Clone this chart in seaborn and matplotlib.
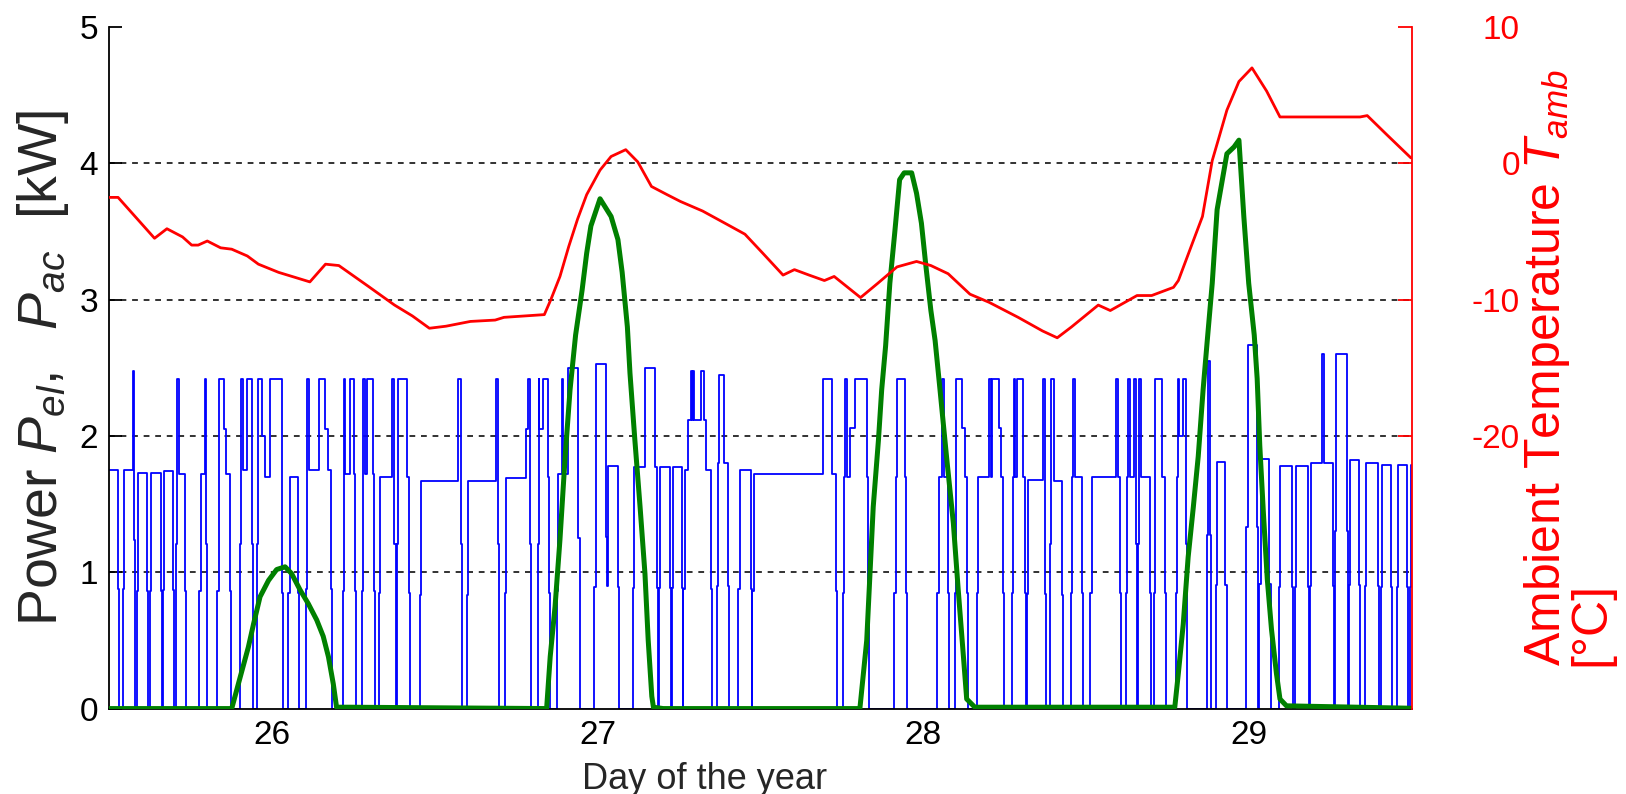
import numpy as np
import pandas as pd
import matplotlib
matplotlib.use("Agg")
import matplotlib.pyplot as plt
import seaborn as sns

# ---------------- data ----------------
# Heat-pump electric power P_el: on-periods (day of year) and base level [kW]
PULSE_ON = [25.490, 25.542, 25.585, 25.626, 25.667, 25.706, 25.778, 25.833, 25.903, 25.954,
            26.051, 26.105, 26.218, 26.277, 26.328, 26.385, 26.456, 26.600, 26.717, 26.817,
            26.875, 26.991, 27.110, 27.190, 27.230, 27.264, 27.366, 27.433, 27.476, 27.755,
            27.912, 28.044, 28.098, 28.165, 28.272, 28.320, 28.390, 28.454, 28.514, 28.622,
            28.661, 28.708, 28.777, 28.871, 28.899, 28.993, 29.033, 29.092, 29.141, 29.189,
            29.265, 29.308, 29.358, 29.405, 29.454, 29.496]
PULSE_OFF = [25.532, 25.581, 25.621, 25.662, 25.700, 25.737, 25.802, 25.874, 25.942, 26.036,
             26.084, 26.185, 26.258, 26.317, 26.380, 26.424, 26.585, 26.699, 26.795, 26.855,
             26.945, 27.067, 27.185, 27.225, 27.262, 27.353, 27.405, 27.474, 27.736, 27.835,
             27.952, 28.081, 28.139, 28.249, 28.316, 28.379, 28.431, 28.492, 28.607, 28.656,
             28.700, 28.745, 28.811, 28.885, 28.932, 29.030, 29.067, 29.137, 29.186, 29.262,
             29.306, 29.341, 29.401, 29.439, 29.490, 29.550]
PULSE_LEVEL = [1.75, 1.75, 1.73, 1.73, 1.74, 1.72, 1.72, 1.72, 1.75, 1.70,
               1.70, 1.75, 1.72, 1.72, 1.70, 1.70, 1.67, 1.67, 1.69, 1.70,
               1.72, 1.78, 1.77, 1.77, 1.77, 1.75, 1.80, 1.75, 1.72, 1.70,
               1.70, 1.70, 1.70, 1.70, 1.70, 1.68, 1.67, 1.70, 1.70, 1.70,
               1.70, 1.70, 1.70, 2.55, 1.81, 2.67, 1.83, 1.78, 1.78, 1.80,
               2.60, 1.82, 1.80, 1.79, 1.79, 1.79]
# segments inside an on-period where the power differs from the base level
HIGH_START = [25.575, 25.706, 25.795, 25.838, 25.853, 25.903, 25.923, 25.954, 25.969, 25.995,
              26.109, 26.146, 26.164, 26.222, 26.240, 26.281, 26.292, 26.368, 26.385, 26.573,
              26.689, 26.780, 26.788, 26.817, 26.822, 26.832, 26.890, 26.911, 26.996, 27.026,
              27.030, 27.146, 27.279, 27.286, 27.289, 27.294, 27.297, 27.317, 27.328, 27.374,
              27.692, 27.759, 27.776, 27.791, 27.921, 28.057, 28.102, 28.121, 28.203, 28.211,
              28.233, 28.278, 28.287, 28.368, 28.393, 28.461, 28.591, 28.630, 28.648, 28.664,
              28.712, 28.783, 28.786, 28.797, 29.224]
HIGH_END = [25.581, 25.714, 25.802, 25.853, 25.858, 25.913, 25.942, 25.969, 25.979, 26.031,
            26.115, 26.164, 26.174, 26.226, 26.253, 26.286, 26.312, 26.378, 26.414, 26.583,
            26.697, 26.788, 26.793, 26.822, 26.832, 26.849, 26.895, 26.942, 27.026, 27.030,
            27.034, 27.177, 27.286, 27.289, 27.294, 27.297, 27.317, 27.328, 27.332, 27.390,
            27.720, 27.765, 27.791, 27.829, 27.944, 28.064, 28.121, 28.129, 28.208, 28.233,
            28.238, 28.282, 28.308, 28.374, 28.401, 28.468, 28.599, 28.636, 28.653, 28.670,
            28.733, 28.786, 28.797, 28.809, 29.231]
HIGH_LEVEL = [2.48, 2.42, 2.42, 2.42, 2.05, 2.42, 2.42, 2.42, 2.00, 2.42,
              2.42, 2.42, 2.05, 2.42, 2.42, 2.42, 2.42, 2.42, 2.42, 2.42,
              2.42, 2.05, 2.42, 2.42, 2.05, 2.42, 2.42, 2.50, 2.53, 1.26,
              0.90, 2.50, 2.12, 2.48, 2.12, 2.48, 2.12, 2.48, 2.12, 2.45,
              2.42, 2.42, 2.06, 2.42, 2.42, 2.42, 2.42, 2.06, 2.42, 2.42,
              2.06, 2.42, 2.42, 2.42, 2.42, 2.42, 2.42, 2.42, 2.42, 2.42,
              2.42, 2.42, 2.00, 2.42, 2.60]

# PV AC power P_ac [kW]
PV_DAY = [25.45, 25.877, 25.903, 25.928, 25.944, 25.964, 25.990, 26.015, 26.041, 26.061,
          26.087, 26.112, 26.138, 26.158, 26.174, 26.189, 26.199, 26.235,
          26.844, 26.855, 26.870, 26.885, 26.901, 26.916, 26.933, 26.953, 26.967, 26.980,
          27.008, 27.042, 27.063, 27.076, 27.092, 27.100, 27.115, 27.131, 27.146, 27.156,
          27.167, 27.172, 27.202,
          27.806, 27.827, 27.837, 27.847, 27.863, 27.873, 27.885, 27.898, 27.913, 27.928,
          27.942, 27.965, 27.980, 27.995, 28.009, 28.024, 28.037, 28.052, 28.072, 28.093,
          28.108, 28.124, 28.134, 28.159,
          28.773, 28.784, 28.799, 28.814, 28.830, 28.845, 28.860, 28.872, 28.888, 28.903,
          28.933, 28.955, 28.970, 28.985, 29.000, 29.017, 29.026, 29.034, 29.045, 29.057,
          29.070, 29.085, 29.096, 29.116, 29.55]
PV_KW = [0.0, 0.0, 0.23, 0.45, 0.62, 0.82, 0.94, 1.02, 1.04, 0.99,
         0.87, 0.77, 0.65, 0.53, 0.38, 0.18, 0.01, 0.01,
         0.0, 0.38, 0.75, 1.24, 1.85, 2.34, 2.74, 3.07, 3.34, 3.54,
         3.74, 3.61, 3.44, 3.20, 2.80, 2.46, 1.97, 1.48, 0.99, 0.50,
         0.09, 0.01, 0.0,
         0.0, 0.50, 0.99, 1.48, 1.97, 2.34, 2.66, 3.12, 3.49, 3.88,
         3.93, 3.93, 3.78, 3.56, 3.24, 2.92, 2.70, 2.34, 1.85, 1.36,
         0.87, 0.38, 0.07, 0.01,
         0.01, 0.26, 0.62, 1.11, 1.48, 1.85, 2.34, 2.68, 3.12, 3.66,
         4.07, 4.12, 4.17, 3.61, 3.12, 2.74, 2.42, 1.93, 1.44, 0.95,
         0.58, 0.26, 0.07, 0.02, 0.0]

# Ambient temperature T_amb [degC]
TAMB_DAY = [25.45, 25.528, 25.640, 25.678, 25.726, 25.754, 25.774, 25.802, 25.843, 25.877,
            25.925, 25.959, 26.021, 26.076, 26.117, 26.165, 26.206, 26.295, 26.377, 26.432,
            26.484, 26.535, 26.610, 26.686, 26.713, 26.775, 26.837, 26.857, 26.885, 26.912,
            26.939, 26.967, 27.008, 27.042, 27.087, 27.124, 27.166, 27.214, 27.255, 27.323,
            27.392, 27.453, 27.508, 27.570, 27.605, 27.650, 27.697, 27.727, 27.808, 27.861,
            27.920, 27.980, 28.024, 28.077, 28.144, 28.203, 28.292, 28.367, 28.412, 28.456,
            28.538, 28.575, 28.657, 28.702, 28.769, 28.784, 28.828, 28.858, 28.888, 28.910,
            28.933, 28.970, 29.010, 29.055, 29.096, 29.342, 29.364, 29.424, 29.498]
TAMB_C = [-2.5, -2.5, -5.5, -4.8, -5.4, -6.0, -6.0, -5.7, -6.2, -6.3,
          -6.8, -7.4, -8.0, -8.4, -8.7, -7.4, -7.5, -9.0, -10.4, -11.2,
          -12.1, -11.95, -11.6, -11.5, -11.3, -11.2, -11.1, -10.0, -8.3, -6.1,
          -4.1, -2.3, -0.5, 0.5, 1.0, 0.1, -1.7, -2.3, -2.8, -3.5,
          -4.4, -5.2, -6.6, -8.2, -7.8, -8.2, -8.6, -8.3, -9.85, -8.8,
          -7.6, -7.2, -7.5, -8.1, -9.6, -10.2, -11.3, -12.3, -12.8, -12.0,
          -10.4, -10.8, -9.7, -9.7, -9.1, -8.6, -5.8, -3.9, 0.2, 2.0,
          3.9, 6.0, 7.0, 5.3, 3.4, 3.4, 3.5, 2.1, 0.4]

X_TICKS = [26, 27, 28, 29]
P_TICKS = [0, 1, 2, 3, 4, 5]
T_TICKS = [-20, -10, 0, 10]
X_LIM = (25.5, 29.5)
P_LIM = (0, 5)
T_LIM = (-40, 10)

RAMP = 0.0035  # one 5-minute sample: half level on switching edges

# ---------------- build step series for P_el ----------------
def p_el(t):
    for on, off, lev in zip(PULSE_ON, PULSE_OFF, PULSE_LEVEL):
        if on <= t < off:
            tc = min(max(t, on + RAMP), off - RAMP - 1e-7)
            val = lev
            for s, e, hl in zip(HIGH_START, HIGH_END, HIGH_LEVEL):
                if s <= tc < e:
                    val = hl
            if t < on + RAMP or t >= off - RAMP:
                val *= 0.5
            return val
    return 0.0

bp = set([25.45, 29.6])
for on, off in zip(PULSE_ON, PULSE_OFF):
    bp.update([on, on + RAMP, off - RAMP, off])
bp.update(HIGH_START)
bp.update(HIGH_END)
bp = np.array(sorted(bp))
mid = np.append((bp[:-1] + bp[1:]) / 2, bp[-1])
pel = np.array([p_el(t) for t in mid])
df_el = pd.DataFrame({"day": bp, "P": pel})
df_pv = pd.DataFrame({"day": PV_DAY, "P": PV_KW})
df_t = pd.DataFrame({"day": TAMB_DAY, "T": TAMB_C})

# ---------------- figure ----------------
sns.set_style("white")
plt.rcParams["font.family"] = ["Liberation Sans", "DejaVu Sans"]
plt.rcParams["mathtext.fontset"] = "custom"
plt.rcParams["mathtext.rm"] = "Liberation Sans"
plt.rcParams["mathtext.it"] = "Liberation Sans:italic"
plt.rcParams["mathtext.bf"] = "Liberation Sans:bold"
plt.rcParams["axes.unicode_minus"] = False

fig = plt.figure(figsize=(16.26, 7.94), dpi=100)
ax = fig.add_axes([0.067, 0.1076, 0.8011, 0.8584])

for v in P_TICKS:
    if P_LIM[0] < v < P_LIM[1]:
        ax.axhline(v, color="#222222", lw=1.3, ls=(0, (3.2, 3.2)), zorder=0.5)

sns.lineplot(data=df_el, x="day", y="P", ax=ax, color="#0000ff", lw=1.3,
             drawstyle="steps-post", estimator=None, sort=False, zorder=2)
sns.lineplot(data=df_pv, x="day", y="P", ax=ax, color="#008000", lw=3.6,
             estimator=None, sort=False, zorder=3)

ax.set_xlim(*X_LIM)
ax.set_ylim(*P_LIM)
ax.set_xticks(X_TICKS)
ax.set_yticks(P_TICKS)
ax.tick_params(axis="both", direction="in", labelsize=24, colors="black")
ax.tick_params(axis="x", length=10, width=1.3, pad=8)
ax.tick_params(axis="y", length=9, width=1.3, pad=8)
ax.set_xlabel("Day of the year", fontsize=26)
ax.xaxis.set_label_coords(0.4576, -0.078)
ax.set_ylabel(r"Power $P_{el},$  $P_{ac}$  [kW]", fontsize=40)
ax.yaxis.set_label_coords(-0.029, 0.5)
for s in ["top", "right"]:
    ax.spines[s].set_visible(False)
for s in ["left", "bottom"]:
    ax.spines[s].set_color("black")
    ax.spines[s].set_linewidth(1.3)

ax2 = ax.twinx()
sns.lineplot(data=df_t, x="day", y="T", ax=ax2, color="#ff0000", lw=2.0,
             estimator=None, sort=False)
ax2.set_ylim(*T_LIM)
ax2.set_xlim(*X_LIM)
ax2.set_yticks(T_TICKS)
ax2.tick_params(axis="y", direction="in", length=10, width=1.3, colors="#ff0000",
                labelcolor="#ff0000", labelsize=24, pad=78)
for lab in ax2.get_yticklabels():
    lab.set_horizontalalignment("right")
for s in ["top", "left", "bottom"]:
    ax2.spines[s].set_visible(False)
ax2.spines["right"].set_color("#ff0000")
ax2.spines["right"].set_linewidth(1.3)
ax2.set_ylabel("Ambient Temperature $T_{amb}$\n[°C]", fontsize=36, color="#ff0000",
               multialignment="left", linespacing=0.9)
ax2.yaxis.set_label_coords(1.085, 0.5)

fig.savefig("out.png", dpi=100)
